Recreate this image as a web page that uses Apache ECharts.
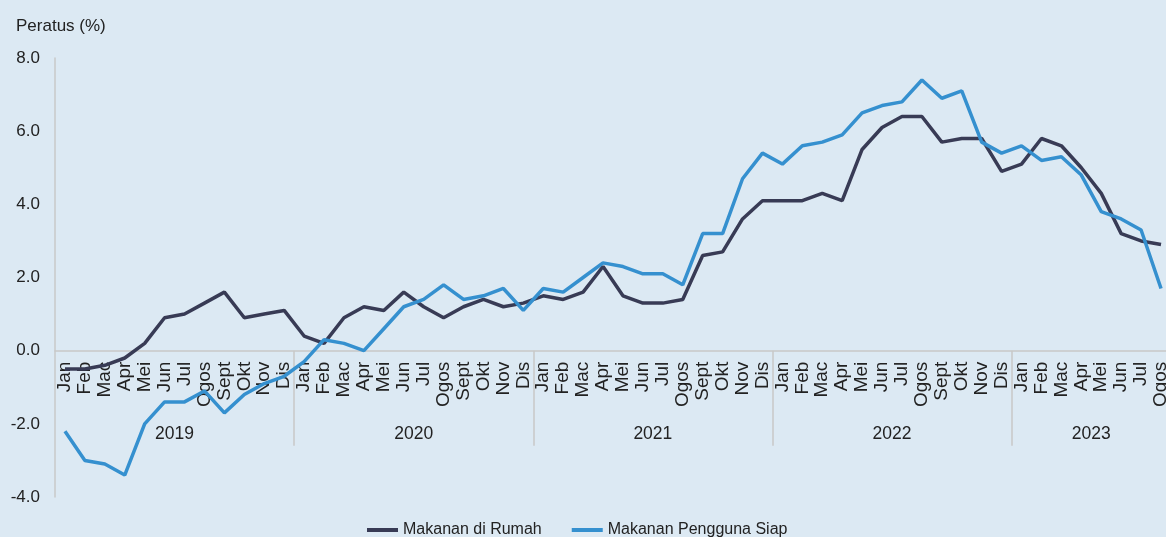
<html>
<meta charset="UTF-8">
<head>
    <script src="https://cdn.jsdelivr.net/npm/echarts@6/dist/echarts.min.js"></script>
</head>
<body style="margin:0;background:#dce9f3">

<div id="chart" style="width:1166px;height:537px;"></div>

</body>
<script>
    // kategori bulan, ikut tahun
    var years = ['2019', '2020', '2021', '2022', '2023'];
    var monthNames = ['Jan', 'Feb', 'Mac', 'Apr', 'Mei', 'Jun', 'Jul', 'Ogos', 'Sept', 'Okt', 'Nov', 'Dis'];
    var monthsInYear = [12, 12, 12, 12, 8];

    var rumah = [
        -0.5, -0.5, -0.4, -0.2, 0.2, 0.9, 1.0, 1.3, 1.6, 0.9, 1.0, 1.1,
        0.4, 0.2, 0.9, 1.2, 1.1, 1.6, 1.2, 0.9, 1.2, 1.4, 1.2, 1.3,
        1.5, 1.4, 1.6, 2.3, 1.5, 1.3, 1.3, 1.4, 2.6, 2.7, 3.6, 4.1,
        4.1, 4.1, 4.3, 4.1, 5.5, 6.1, 6.4, 6.4, 5.7, 5.8, 5.8, 4.9,
        5.1, 5.8, 5.6, 5.0, 4.3, 3.2, 3.0, 2.9
    ];
    var siap = [
        -2.2, -3.0, -3.1, -3.4, -2.0, -1.4, -1.4, -1.1, -1.7, -1.2, -0.9, -0.7,
        -0.3, 0.3, 0.2, 0.0, 0.6, 1.2, 1.4, 1.8, 1.4, 1.5, 1.7, 1.1,
        1.7, 1.6, 2.0, 2.4, 2.3, 2.1, 2.1, 1.8, 3.2, 3.2, 4.7, 5.4,
        5.1, 5.6, 5.7, 5.9, 6.5, 6.7, 6.8, 7.4, 6.9, 7.1, 5.7, 5.4,
        5.6, 5.2, 5.3, 4.8, 3.8, 3.6, 3.3, 1.7
    ];

    var font = 'Liberation Sans, Arial, sans-serif';
    var axisGrey = '#c8c8c8';

    // bulan untuk paksi bawah, dan paksi tahun (sempadan tahun sebagai tick)
    var months = [];
    var yearAxis = [''];
    var yearStart = [];
    for (var y = 0; y < years.length; y++) {
        yearStart.push(months.length);
        for (var m = 0; m < monthsInYear[y]; m++) {
            months.push(monthNames[m]);
            yearAxis.push('');
        }
        yearAxis[yearStart[y] + monthsInYear[y] / 2] = years[y];
    }

    var yMin = -4, yMax = 8;
    var plotTop = 58, plotHeight = 439;
    // grid kedua berakhir pada garis sifar
    var zeroHeight = plotHeight * yMax / (yMax - yMin);

    var chart = echarts.init(document.getElementById('chart'));
    chart.setOption({
        backgroundColor: '#dce9f3',
        animation: false,
        title: {
            text: 'Peratus (%)',
            left: 11,
            top: 13,
            textStyle: {fontFamily: font, fontSize: 17, fontWeight: 'normal', color: '#222'}
        },
        legend: {
            left: 360,
            top: 517,
            itemWidth: 31,
            itemHeight: 14,
            itemGap: 28,
            itemStyle: {opacity: 0},
            lineStyle: {width: 4},
            textStyle: {fontFamily: font, fontSize: 16, color: '#222'},
            data: ['Makanan di Rumah', 'Makanan Pengguna Siap']
        },
        grid: [
            {left: 55, top: plotTop, width: 1116, height: plotHeight, outerBoundsMode: 'none', containLabel: false},
            {left: 55, top: plotTop, width: 1116, height: zeroHeight, outerBoundsMode: 'none', containLabel: false}
        ],
        xAxis: [
            {
                type: 'category',
                gridIndex: 0,
                data: months,
                boundaryGap: true,
                show: false
            },
            {
                type: 'category',
                gridIndex: 1,
                data: months,
                boundaryGap: true,
                position: 'bottom',
                axisLine: {onZero: false, lineStyle: {color: axisGrey, width: 1.5}},
                axisTick: {show: false},
                axisLabel: {
                    interval: 0, rotate: 90, margin: 11,
                    fontFamily: font, fontSize: 19, color: '#222'
                }
            },
            {
                type: 'category',
                gridIndex: 1,
                data: yearAxis,
                boundaryGap: false,
                position: 'bottom',
                axisLine: {show: false, onZero: false},
                axisTick: {
                    show: true,
                    length: 95,
                    interval: function (i) { return i > 0 && yearStart.indexOf(i) >= 0; },
                    lineStyle: {color: axisGrey, width: 1.5}
                },
                axisLabel: {
                    interval: 0, margin: 75,
                    fontFamily: font, fontSize: 17.5, color: '#222'
                }
            }
        ],
        yAxis: [
            {
                type: 'value',
                gridIndex: 0,
                min: yMin,
                max: yMax,
                interval: 2,
                axisLine: {show: true, onZero: false, lineStyle: {color: axisGrey, width: 1.5}},
                axisTick: {show: false},
                splitLine: {show: false},
                axisLabel: {
                    margin: 15,
                    fontFamily: font, fontSize: 17, color: '#222',
                    formatter: function (v) { return v.toFixed(1); }
                }
            },
            {
                type: 'value',
                gridIndex: 1,
                min: 0,
                max: yMax,
                show: false
            }
        ],
        series: [
            {
                name: 'Makanan di Rumah',
                type: 'line',
                xAxisIndex: 0,
                yAxisIndex: 0,
                data: rumah,
                symbol: 'none',
                color: '#383b55',
                lineStyle: {width: 3.5, color: '#383b55'}
            },
            {
                name: 'Makanan Pengguna Siap',
                type: 'line',
                xAxisIndex: 0,
                yAxisIndex: 0,
                data: siap,
                symbol: 'none',
                color: '#3590cf',
                lineStyle: {width: 3.5, color: '#3590cf'}
            }
        ]
    });
</script>
</html>
